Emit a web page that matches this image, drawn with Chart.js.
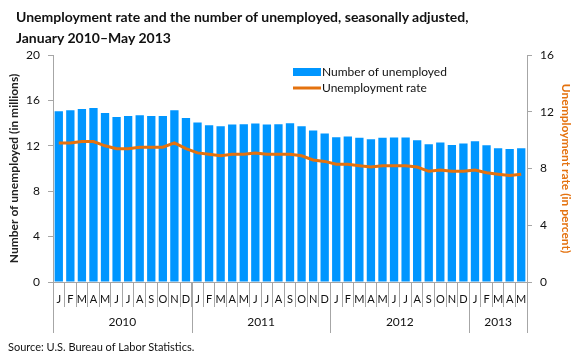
<!DOCTYPE html>
<html>
<head>
<meta charset="utf-8">
<script src="https://cdn.jsdelivr.net/npm/chart.js@4/dist/chart.umd.min.js"></script>
<style>
  html, body { margin: 0; padding: 0; background: #fff; }
  #wrap { position: relative; width: 580px; height: 361px; font-family: Lato, "Open Sans", sans-serif; }
  #title { position: absolute; left: 16px; top: 6px; font-size: 14px; font-weight: bold; line-height: 21px; color: #111; }
  #source { position: absolute; left: 8px; top: 340px; font-size: 11px; color: #111; }
  canvas { position: absolute; left: 0; top: 0; }
</style>
</head>
<body>
<div id="wrap">
  <canvas id="chart" width="580" height="361"></canvas>
  <div id="title">Unemployment rate and the number of unemployed, seasonally adjusted,<br>January 2010–May 2013</div>
  <div id="source">Source: U.S. Bureau of Labor Statistics.</div>
</div>
<script>
const monthLetters = ['J','F','M','A','M','J','J','A','S','O','N','D'];
const years = ['2010', '2011', '2012', '2013'];
const monthsPerYear = [12, 12, 12, 5];

// number of unemployed, millions
const unemployed = [
    15.05, 15.14, 15.24, 15.32, 14.90, 14.54, 14.62, 14.70, 14.62, 14.62, 15.14, 14.45,
    14.05, 13.80, 13.72, 13.88, 13.90, 13.96, 13.88, 13.90, 13.98, 13.72, 13.35, 13.08,
    12.75, 12.82, 12.72, 12.58, 12.72, 12.74, 12.74, 12.50, 12.14, 12.30, 12.06, 12.20,
    12.40, 12.05, 11.78, 11.72, 11.78
];
// unemployment rate, percent
const rate = [
    9.8, 9.8, 9.9, 9.9, 9.6, 9.4, 9.4, 9.5, 9.5, 9.5, 9.8, 9.4,
    9.1, 9.0, 8.9, 9.0, 9.0, 9.1, 9.0, 9.0, 9.0, 8.9, 8.6, 8.5,
    8.3, 8.3, 8.2, 8.1, 8.2, 8.2, 8.2, 8.1, 7.8, 7.9, 7.8, 7.8,
    7.9, 7.7, 7.6, 7.5, 7.6
];
const leftTicks = [0, 4, 8, 12, 16, 20];
const rightTicks = [0, 4, 8, 12, 16];

const labels = [];
monthsPerYear.forEach(n => {
    for (let i = 0; i < n; i++) labels.push(monthLetters[i]);
});

const BLUE = '#0096FF';
const ORANGE = '#E4720F';
const AXIS = '#A6A6A6';
const FONT = 'Lato, "Open Sans", sans-serif';

const extras = {
    id: 'extras',
    afterDraw(chart) {
        const ctx = chart.ctx;
        const x = chart.scales.x;
        const area = chart.chartArea;
        const step = x.getPixelForValue(1) - x.getPixelForValue(0);

        // year separators and year labels
        ctx.save();
        ctx.strokeStyle = AXIS;
        ctx.lineWidth = 1;
        ctx.fillStyle = '#111';
        ctx.font = '12px ' + FONT;
        ctx.textAlign = 'center';
        ctx.textBaseline = 'middle';
        let start = 0;
        monthsPerYear.forEach((n, k) => {
            const x0 = x.getPixelForValue(start) - step / 2;
            const x1 = x.getPixelForValue(start + n - 1) + step / 2;
            [x0, x1].forEach(px => {
                ctx.beginPath();
                ctx.moveTo(Math.round(px) + 0.5, area.bottom);
                ctx.lineTo(Math.round(px) + 0.5, 333);
                ctx.stroke();
            });
            ctx.fillText(years[k], (x0 + x1) / 2, 322);
            start += n;
        });

        // axis titles
        ctx.font = 'bold 12px ' + FONT;
        ctx.fillStyle = '#222';
        ctx.translate(14, (area.top + area.bottom) / 2);
        ctx.rotate(-Math.PI / 2);
        ctx.fillText('Number of unemployed (in millions)', 0, 0);
        ctx.restore();

        ctx.save();
        ctx.font = 'bold 12px ' + FONT;
        ctx.fillStyle = ORANGE;
        ctx.textAlign = 'center';
        ctx.textBaseline = 'middle';
        ctx.translate(566, (area.top + area.bottom) / 2);
        ctx.rotate(Math.PI / 2);
        ctx.fillText('Unemployment rate (in percent)', 0, 0);
        ctx.restore();

        // legend
        ctx.save();
        ctx.fillStyle = BLUE;
        ctx.fillRect(293, 68, 28, 8);
        ctx.strokeStyle = ORANGE;
        ctx.lineWidth = 3;
        ctx.beginPath();
        ctx.moveTo(293, 88);
        ctx.lineTo(321, 88);
        ctx.stroke();
        ctx.fillStyle = '#111';
        ctx.font = '12px ' + FONT;
        ctx.textBaseline = 'middle';
        ctx.fillText('Number of unemployed', 322, 72);
        ctx.fillText('Unemployment rate', 322, 88);
        ctx.restore();
    }
};

const ctx = document.getElementById('chart').getContext('2d');
new Chart(ctx, {
    data: {
        labels: labels,
        datasets: [
            {
                type: 'line',
                label: 'Unemployment rate',
                data: rate,
                yAxisID: 'y1',
                borderColor: ORANGE,
                borderWidth: 3,
                pointRadius: 0,
                tension: 0,
                order: 0
            },
            {
                type: 'bar',
                label: 'Number of unemployed',
                data: unemployed,
                yAxisID: 'y',
                backgroundColor: BLUE,
                barPercentage: 0.72,
                categoryPercentage: 1,
                order: 1
            }
        ]
    },
    options: {
        responsive: false,
        animation: false,
        layout: { padding: { top: 55, bottom: 54, left: 0, right: 0 } },
        plugins: {
            legend: { display: false },
            tooltip: { enabled: false }
        },
        scales: {
            x: {
                offset: true,
                grid: {
                    display: true,
                    offset: true,
                    drawOnChartArea: false,
                    tickLength: 25,
                    color: AXIS
                },
                border: { color: AXIS },
                ticks: {
                    color: '#111',
                    font: { family: FONT, size: 11 },
                    padding: -14,
                    maxRotation: 0,
                    autoSkip: false
                },
                afterFit(scale) { scale.height = 25; }
            },
            y: {
                position: 'left',
                min: 0,
                max: 20,
                afterBuildTicks(scale) { scale.ticks = leftTicks.map(v => ({ value: v })); },
                grid: { drawOnChartArea: false, tickLength: 5, color: AXIS },
                border: { color: AXIS },
                ticks: { color: '#111', font: { family: FONT, size: 12 }, padding: 8 },
                afterFit(scale) { scale.width = 53; }
            },
            y1: {
                position: 'right',
                min: 0,
                max: 16,
                afterBuildTicks(scale) { scale.ticks = rightTicks.map(v => ({ value: v })); },
                grid: { drawOnChartArea: false, tickLength: 5, color: AXIS },
                border: { color: AXIS },
                ticks: { color: '#111', font: { family: FONT, size: 12 }, padding: 8 },
                afterFit(scale) { scale.width = 53; }
            }
        }
    },
    plugins: [extras]
});
</script>
</body>
</html>
